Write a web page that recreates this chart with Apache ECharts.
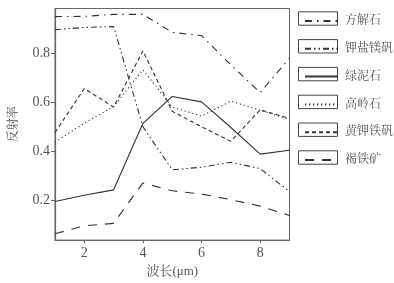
<!DOCTYPE html>
<html><head><meta charset="utf-8">
<script src="https://cdn.jsdelivr.net/npm/echarts@6/dist/echarts.min.js"></script>
<style>html,body{margin:0;padding:0;background:#fff}#c{width:394px;height:283px}</style>
</head><body><div id="c"></div>
<script>
var xValues = [1, 2, 3, 4, 5, 6, 7, 8, 9];
var xTicks = [2, 4, 6, 8];
var yTicks = [0.2, 0.4, 0.6, 0.8];
var seriesNames = ['方解石', '钾盐镁矾', '绿泥石', '高岭石', '黄钾铁矾', '褐铁矿'];
var calcite   = [0.947, 0.948, 0.956, 0.956, 0.883, 0.870, 0.751, 0.639, 0.778];
var kainite   = [0.894, 0.903, 0.907, 0.500, 0.325, 0.336, 0.356, 0.330, 0.237];
var chlorite  = [0.197, 0.222, 0.244, 0.514, 0.623, 0.601, 0.497, 0.389, 0.405];
var kaolinite = [0.437, 0.515, 0.582, 0.731, 0.580, 0.543, 0.604, 0.567, 0.530];
var jarosite  = [0.477, 0.655, 0.580, 0.808, 0.563, 0.500, 0.441, 0.569, 0.534];
var limonite  = [0.066, 0.098, 0.108, 0.272, 0.240, 0.227, 0.204, 0.178, 0.140];
var allData = [calcite, kainite, chlorite, kaolinite, jarosite, limonite];
var dashes = [[7,5,1.5,5], [6,3,1.5,3,1.5,3], 'solid', [1.2,2.8], [4,3], [9,8]];

var FONT = '"Liberation Serif","Noto Serif CJK SC","Noto Sans CJK SC",serif';
var series = seriesNames.map(function(n, i){
  return {
    name: n, type: 'line', symbol: 'none', showSymbol: false,
    data: xValues.map(function(x, j){ return [x, allData[i][j]]; }),
    lineStyle: {color: '#333', width: 1.1, type: dashes[i]},
    itemStyle: {color: '#333'}
  };
});
var graphics = [];
for (var i = 0; i < 6; i++) {
  graphics.push({type:'rect', left: 296, top: 9.3 + i*27.8,
    shape:{width:39, height:13.4}, style:{fill:'none', stroke:'#444', lineWidth:1}});
}
var chart = echarts.init(document.getElementById('c'));
chart.setOption({
  animation: false,
  backgroundColor: '#fff',
  grid: {left: 47.5, right: 104.5, top: 8.5, bottom: 36.5, show: true, borderColor: '#666', borderWidth: 1},
  legend: {
    orient: 'vertical', left: 299, top: 9.3, itemWidth: 33, itemHeight: 13.4, itemGap: 14.4,
    data: seriesNames,
    itemStyle: {opacity: 0},
    textStyle: {fontFamily: FONT, fontSize: 12, color: '#555', lineHeight: 13.4, padding: [0,0,0,2]}
  },
  graphic: graphics,
  xAxis: {
    type: 'value', min: 1, max: 9,
    name: '波长(μm)', nameLocation: 'middle', nameGap: 23,
    nameTextStyle: {fontFamily: FONT, fontSize: 13, color: '#555'},
    axisLine: {show: true, lineStyle: {color: '#666', width: 1.2}},
    axisTick: {show: true, length: 3, customValues: xTicks, lineStyle: {color: '#666'}},
    axisLabel: {customValues: xTicks, fontFamily: FONT, fontSize: 14, color: '#555', margin: 6},
    splitLine: {show: false}
  },
  yAxis: {
    type: 'value', min: 0.04, max: 0.98,
    name: '反射率', nameLocation: 'middle', nameGap: 35, nameRotate: 90,
    nameTextStyle: {fontFamily: FONT, fontSize: 12, color: '#555'},
    axisLine: {show: true, lineStyle: {color: '#666', width: 1.2}},
    axisTick: {show: true, length: 4, customValues: yTicks, lineStyle: {color: '#666'}},
    axisLabel: {customValues: yTicks, fontFamily: FONT, fontSize: 14, color: '#555', margin: 5,
      formatter: function(v){ return v.toFixed(1); }},
    splitLine: {show: false}
  },
  series: series
});
</script></body></html>
